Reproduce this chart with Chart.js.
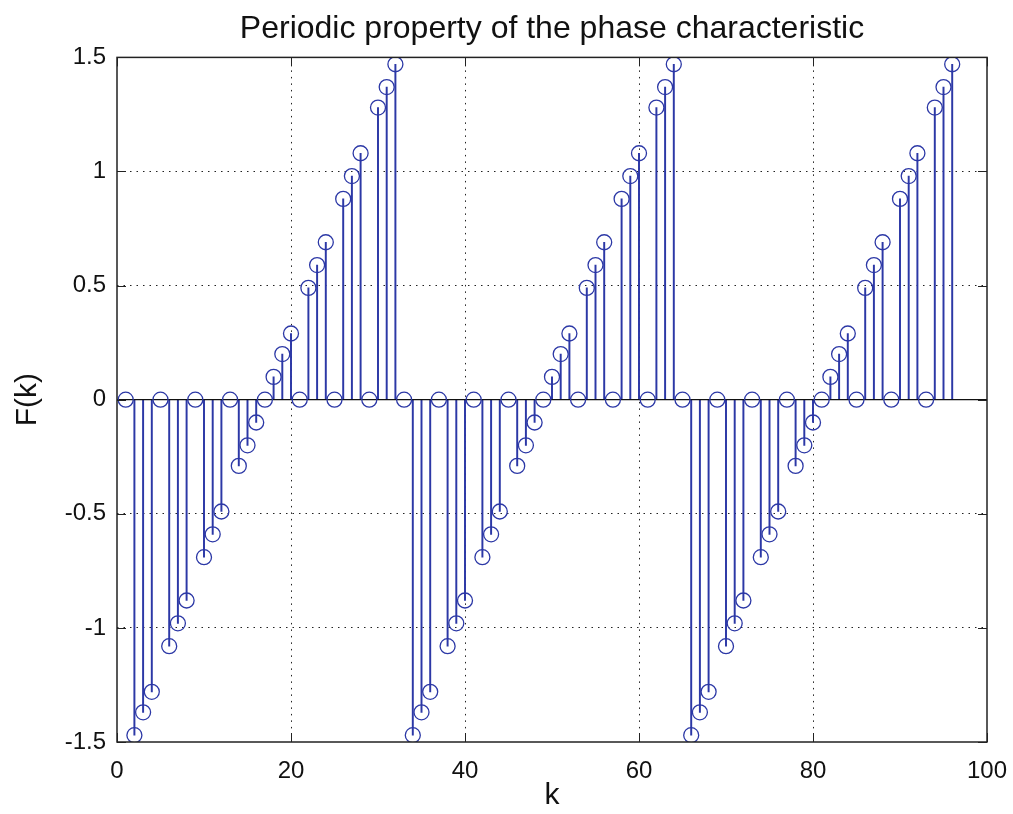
<!DOCTYPE html>
<html>
<head>
<meta charset="utf-8">
<script src="https://cdn.jsdelivr.net/npm/chart.js@4.4.0/dist/chart.umd.min.js"></script>
<style>
  html, body { margin: 0; padding: 0; background: #fff; }
  #wrap { width: 1013px; height: 814px; }
</style>
</head>
<body>
<div id="wrap"><canvas id="stem_chart"></canvas></div>
<script>
// k index and phase values F(k)
var kValues = [
  1, 2, 3, 4, 5, 6, 7, 8, 9, 10, 11, 12, 13, 14, 15, 16,
  17, 18, 19, 20, 21, 22, 23, 24, 25, 26, 27, 28, 29, 30, 31, 32,
  33, 34, 35, 36, 37, 38, 39, 40, 41, 42, 43, 44, 45, 46, 47, 48,
  49, 50, 51, 52, 53, 54, 55, 56, 57, 58, 59, 60, 61, 62, 63, 64,
  65, 66, 67, 68, 69, 70, 71, 72, 73, 74, 75, 76, 77, 78, 79, 80,
  81, 82, 83, 84, 85, 86, 87, 88, 89, 90, 91, 92, 93, 94, 95, 96
];
var fValues = [
  0, -1.47, -1.37, -1.28, 0, -1.08, -0.98, -0.88, 0, -0.69, -0.59, -0.49, 0, -0.29, -0.20, -0.10,
  0, 0.10, 0.20, 0.29, 0, 0.49, 0.59, 0.69, 0, 0.88, 0.98, 1.08, 0, 1.28, 1.37, 1.47,
  0, -1.47, -1.37, -1.28, 0, -1.08, -0.98, -0.88, 0, -0.69, -0.59, -0.49, 0, -0.29, -0.20, -0.10,
  0, 0.10, 0.20, 0.29, 0, 0.49, 0.59, 0.69, 0, 0.88, 0.98, 1.08, 0, 1.28, 1.37, 1.47,
  0, -1.47, -1.37, -1.28, 0, -1.08, -0.98, -0.88, 0, -0.69, -0.59, -0.49, 0, -0.29, -0.20, -0.10,
  0, 0.10, 0.20, 0.29, 0, 0.49, 0.59, 0.69, 0, 0.88, 0.98, 1.08, 0, 1.28, 1.37, 1.47
];
var xTicks = [0, 20, 40, 60, 80, 100];
var yTicks = [-1.5, -1, -0.5, 0, 0.5, 1, 1.5];
var baseline = [{x: 0, y: 0}, {x: 100, y: 0}];

var stemColor = "rgb(44,56,166)";
var fontFamily = "'Liberation Sans', Arial, Helvetica, sans-serif";

var points = kValues.map(function(k, i) { return {x: k, y: fValues[i]}; });

// box + inward tick marks like matlab axes
var boxPlugin = {
  id: "boxPlugin",
  afterDatasetsDraw: function(chart) {
    var ctx = chart.ctx, a = chart.chartArea;
    var xs = chart.scales.x, ys = chart.scales.y;
    ctx.save();
    ctx.strokeStyle = "#222";
    ctx.lineWidth = 1.5;
    ctx.strokeRect(a.left, a.top, a.right - a.left, a.bottom - a.top);
    ctx.lineWidth = 1;
    xTicks.forEach(function(v) {
      var px = Math.round(xs.getPixelForValue(v)) + 0.5;
      ctx.beginPath();
      ctx.moveTo(px, a.bottom); ctx.lineTo(px, a.bottom - 9);
      ctx.moveTo(px, a.top); ctx.lineTo(px, a.top + 9);
      ctx.stroke();
    });
    yTicks.forEach(function(v) {
      var py = Math.round(ys.getPixelForValue(v)) + 0.5;
      ctx.beginPath();
      ctx.moveTo(a.left, py); ctx.lineTo(a.left + 9, py);
      ctx.moveTo(a.right, py); ctx.lineTo(a.right - 9, py);
      ctx.stroke();
    });
    ctx.restore();
  }
};

new Chart("stem_chart", {
  type: "bar",
  data: {
    datasets: [
      {
        type: "scatter",
        data: points,
        showLine: false,
        pointStyle: "circle",
        pointRadius: 7.5,
        pointHoverRadius: 7.5,
        pointBorderWidth: 1.3,
        pointBorderColor: stemColor,
        pointBackgroundColor: "rgba(0,0,0,0)",
        order: 1
      },
      {
        type: "line",
        data: baseline,
        borderColor: "#111",
        borderWidth: 1.3,
        pointRadius: 0,
        order: 2
      },
      {
        type: "bar",
        data: points,
        backgroundColor: stemColor,
        barThickness: 1.3,
        grouped: false,
        order: 3
      }
    ]
  },
  options: {
    responsive: true,
    maintainAspectRatio: false,
    animation: false,
    layout: { padding: { top: 0, right: 0, bottom: 0, left: 0 } },
    plugins: {
      legend: { display: false },
      tooltip: { enabled: false },
      title: {
        display: true,
        fullSize: false,
        text: "Periodic property of the phase characteristic",
        color: "#111",
        font: { family: fontFamily, size: 32, weight: "normal" },
        padding: { top: 10, bottom: 9 }
      }
    },
    scales: {
      x: {
        type: "linear",
        min: 0,
        max: 100,
        offset: false,
        afterBuildTicks: function(s) { s.ticks = xTicks.map(function(v) { return {value: v}; }); },
        afterFit: function(s) { s.height = 72; s.paddingRight = 26; },
        grid: {
          offset: false,
          color: function(c) { return (c.tick && (c.tick.value === 0 || c.tick.value === 100)) ? "rgba(0,0,0,0)" : "#222"; },
          lineWidth: 1,
          drawTicks: false
        },
        border: { display: false, dash: [1.5, 5] },
        ticks: {
          color: "#111",
          font: { family: fontFamily, size: 24 },
          padding: 15,
          maxRotation: 0
        },
        title: {
          display: true,
          text: "k",
          color: "#111",
          font: { family: fontFamily, size: 30 },
          padding: { top: 0, bottom: 0 }
        }
      },
      y: {
        min: -1.5,
        max: 1.5,
        afterBuildTicks: function(s) { s.ticks = yTicks.map(function(v) { return {value: v}; }); },
        afterFit: function(s) { s.width = 117; },
        grid: {
          color: function(c) { return (c.tick && (c.tick.value === -1.5 || c.tick.value === 1.5 || c.tick.value === 0)) ? "rgba(0,0,0,0)" : "#222"; },
          lineWidth: 1,
          drawTicks: false
        },
        border: { display: false, dash: [1.5, 5] },
        ticks: {
          color: "#111",
          font: { family: fontFamily, size: 24 },
          padding: 11,
          callback: function(v) { return String(v); }
        },
        title: {
          display: true,
          text: "F(k)",
          color: "#111",
          font: { family: fontFamily, size: 30 },
          padding: { top: 10, bottom: 0 }
        }
      }
    }
  },
  plugins: [boxPlugin]
});
</script>
</body>
</html>
